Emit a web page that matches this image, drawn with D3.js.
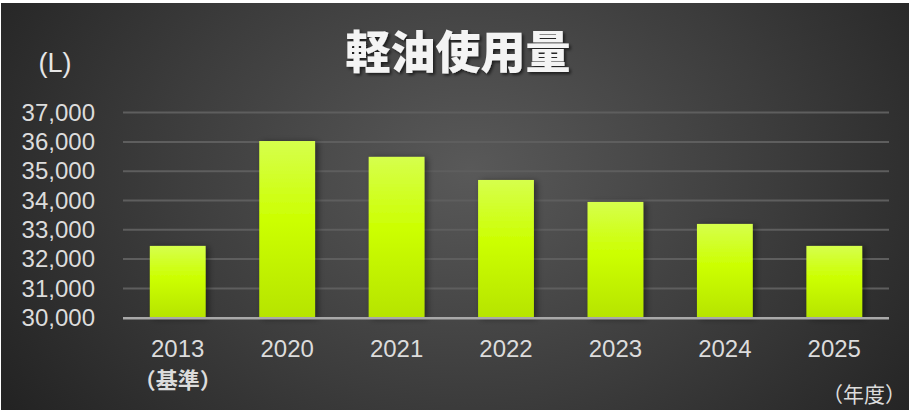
<!DOCTYPE html>
<html>
<head>
<meta charset="utf-8" />
<title>軽油使用量</title>
<script src="https://cdn.jsdelivr.net/npm/d3@7/dist/d3.min.js"></script>
<style>
    html, body { margin:0; padding:0; background:#fff; }
    svg { display:block; }
    text { font-family:"Liberation Sans", Arial, "Noto Sans CJK JP", sans-serif; }
    .jp { font-family:"Noto Sans CJK JP", sans-serif; }
</style>
</head>
<body>
<svg id="CHART" width="909" height="410"></svg>
<script>
    // data
    var years = ["2013", "2020", "2021", "2022", "2023", "2024", "2025"];
    var subLabels = ["（基準）", "", "", "", "", "", ""];
    var litres = [32450, 36030, 35490, 34700, 33950, 33200, 32450];
    var yTicks = [30000, 31000, 32000, 33000, 34000, 35000, 36000, 37000];

    var W = 909, H = 410;
    var svg = d3.select("#CHART");
    var defs = svg.append("defs");

    // background: lighter in the middle, dark at the edges
    var bg = defs.append("radialGradient").attr("id", "bg")
        .attr("gradientUnits", "userSpaceOnUse")
        .attr("cx", 470).attr("cy", 170).attr("r", 560)
        .attr("gradientTransform", "translate(470,170) scale(1,0.75) translate(-470,-170)");
    bg.append("stop").attr("offset", "0%").attr("stop-color", "#595959");
    bg.append("stop").attr("offset", "55%").attr("stop-color", "#3c3c3c");
    bg.append("stop").attr("offset", "100%").attr("stop-color", "#232323");

    var barGrad = defs.append("linearGradient").attr("id", "bar")
        .attr("x1", 0).attr("y1", 0).attr("x2", 0).attr("y2", 1);
    barGrad.append("stop").attr("offset", "0%").attr("stop-color", "#d6ff4c");
    barGrad.append("stop").attr("offset", "45%").attr("stop-color", "#ccff00");
    barGrad.append("stop").attr("offset", "100%").attr("stop-color", "#b6e400");

    var shadow = defs.append("filter").attr("id", "shadow")
        .attr("x", "-30%").attr("y", "-30%").attr("width", "160%").attr("height", "160%");
    shadow.append("feDropShadow").attr("dx", 3).attr("dy", 1)
        .attr("stdDeviation", 3).attr("flood-color", "#000").attr("flood-opacity", 0.45);

    var tshadow = defs.append("filter").attr("id", "tshadow")
        .attr("x", "-10%").attr("y", "-20%").attr("width", "120%").attr("height", "150%");
    tshadow.append("feDropShadow").attr("dx", 2).attr("dy", 2)
        .attr("stdDeviation", 1.5).attr("flood-color", "#000").attr("flood-opacity", 0.6);

    svg.append("rect").attr("x", 1).attr("y", 3)
        .attr("width", W - 1).attr("height", H - 3)
        .attr("fill", "url(#bg)");

    var x = d3.scaleBand().domain(years).range([123, 889]).paddingInner(0.49).paddingOuter(0.245);
    var y = d3.scaleLinear().domain([30000, 37000]).range([317.7, 112.6]);

    // grid lines
    svg.append("g").selectAll("line").data(yTicks.slice(1)).join("line")
        .attr("x1", 123).attr("x2", 889)
        .attr("y1", function (d) { return y(d); })
        .attr("y2", function (d) { return y(d); })
        .attr("stroke", "#5e5e5e").attr("stroke-width", 2);

    // y axis labels
    var yAxis = d3.axisLeft(y).tickValues(yTicks).tickSize(0).tickPadding(0)
        .tickFormat(d3.format(","));
    var gy = svg.append("g").attr("transform", "translate(95,0)").call(yAxis);
    gy.select(".domain").remove();
    gy.selectAll("text").attr("fill", "#dcdcdc").style("font-size", "24px")
        .style("font-family", "'Liberation Sans', Arial, sans-serif");

    // bars
    svg.append("g").selectAll("rect").data(litres).join("rect")
        .attr("x", function (d, i) { return x(years[i]); })
        .attr("width", x.bandwidth())
        .attr("y", function (d) { return y(d); })
        .attr("height", function (d) { return y(30000) - y(d); })
        .attr("fill", "url(#bar)")
        .attr("filter", "url(#shadow)");

    // baseline
    svg.append("line").attr("x1", 123).attr("x2", 889)
        .attr("y1", y(30000) + 0.5).attr("y2", y(30000) + 0.5)
        .attr("stroke", "#a9a9a9").attr("stroke-width", 2.5);

    // x labels
    var xl = svg.append("g");
    xl.selectAll("text.yr").data(years).join("text").attr("class", "yr")
        .attr("x", function (d) { return x(d) + x.bandwidth() / 2; })
        .attr("y", 357)
        .attr("text-anchor", "middle")
        .attr("fill", "#dcdcdc").style("font-size", "24px")
        .text(function (d) { return d; });
    xl.selectAll("text.sub").data(subLabels).join("text").attr("class", "sub jp")
        .attr("x", function (d, i) { return x(years[i]) + x.bandwidth() / 2; })
        .attr("y", 388)
        .attr("text-anchor", "middle")
        .attr("fill", "#dcdcdc").style("font-size", "22px").style("font-weight", "bold")
        .text(function (d) { return d; });

    // units
    svg.append("text").attr("x", 55).attr("y", 72).attr("text-anchor", "middle")
        .attr("fill", "#e6e6e6").style("font-size", "27px").text("(L)");
    svg.append("text").attr("class", "jp").attr("x", 906).attr("y", 402).attr("text-anchor", "end")
        .attr("fill", "#dcdcdc").style("font-size", "21px").text("（年度）");

    // title
    svg.append("text").attr("class", "jp").attr("x", 458).attr("y", 69)
        .attr("text-anchor", "middle")
        .attr("fill", "#f4f4f4").style("font-size", "45px").style("font-weight", "900")
        .attr("filter", "url(#tshadow)")
        .text("軽油使用量");
</script>
</body>
</html>
